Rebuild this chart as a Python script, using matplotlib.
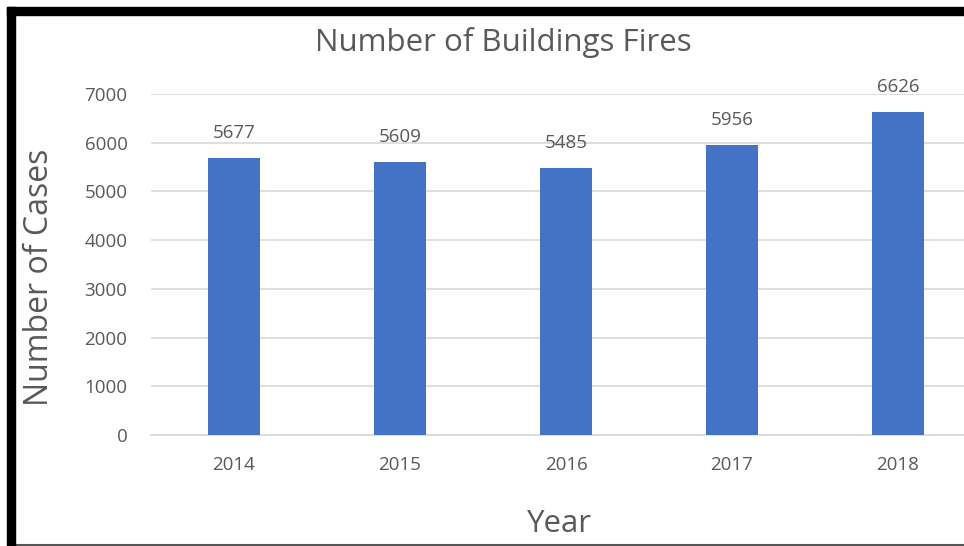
import matplotlib.pyplot as plt
from matplotlib.patches import Rectangle
from matplotlib.lines import Line2D

years = ["2014", "2015", "2016", "2017", "2018"]
cases = [5677, 5609, 5485, 5956, 6626]
yticks = [0, 1000, 2000, 3000, 4000, 5000, 6000, 7000]

W, H = 964, 546
fig = plt.figure(figsize=(W / 100, H / 100), dpi=100)
plt.rcParams['font.family'] = ['Open Sans', 'DejaVu Sans']
grey = "#595959"

# plot area in pixels
left, right = 151, 981
bottom, top = 435, 94
ax = fig.add_axes([left / W, 1 - bottom / H, (right - left) / W, (bottom - top) / H])
x = range(len(years))
ax.bar(x, cases, width=0.31, color="#4472C4", zorder=3)
ax.set_xlim(-0.5, len(years) - 0.5)
ax.set_ylim(0, 7000)
ax.set_yticks(yticks)
ax.set_xticks(list(x))
ax.set_xticklabels(years)
ax.grid(axis="y", color="#d9d9d9", linewidth=1.2, zorder=0)
for s in ["top", "right", "left"]:
    ax.spines[s].set_visible(False)
ax.spines["bottom"].set_color("#d9d9d9")
ax.spines["bottom"].set_linewidth(1.2)
ax.tick_params(axis="both", length=0, colors=grey, labelsize=13.5)
ax.tick_params(axis="y", pad=17)
ax.tick_params(axis="x", pad=15)
for i, v in enumerate(cases):
    ax.annotate(str(v), (i, v), xytext=(0, 18), textcoords="offset points",
                ha="center", va="center", color=grey, fontsize=13.5)

fig.text(503 / W, 1 - 42 / H, "Number of Buildings Fires", ha="center", va="center",
         color=grey, fontsize=22.5)
fig.text(40 / W, 1 - 277 / H, "Number of Cases", ha="center", va="center",
         rotation=90, color=grey, fontsize=23)
fig.text(559 / W, 1 - 524 / H, "Year", ha="center", va="center",
         color=grey, fontsize=22.5)

# black frame
fig.patches.append(Rectangle((7 / W, 0), 8 / W, 1 - 7 / H, transform=fig.transFigure,
                             color="black", zorder=10))
fig.patches.append(Rectangle((7 / W, 1 - 15 / H), 1, 8 / H, transform=fig.transFigure,
                             color="black", zorder=10))
fig.lines.append(Line2D([15 / W, 1], [1 - 544.5 / H] * 2, transform=fig.transFigure,
                        color="#555555", linewidth=1.5))

fig.savefig("out.png", dpi=100)
